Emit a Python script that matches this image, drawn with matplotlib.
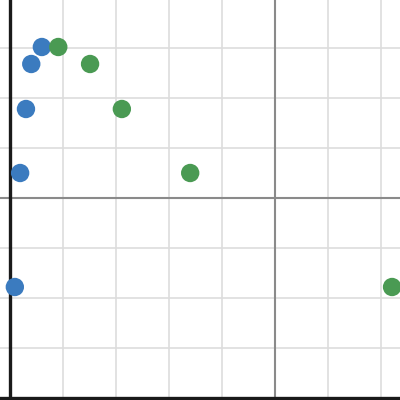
import numpy as np
import matplotlib
matplotlib.use("Agg")
import matplotlib.pyplot as plt

# values (grid units)
blue_x = [-4.40, -4.60, -4.70, -4.81, -4.91]
blue_y = [3.02, 2.68, 1.78, 0.50, -1.78]
green_x = [-4.09, -3.49, -2.89, -1.60, 2.21]
green_y = [3.02, 2.68, 1.78, 0.50, -1.78]

fig = plt.figure(figsize=(4, 4), dpi=100)
ax = fig.add_axes([0, 0, 1, 1])
ax.set_xlim(-5.19, 2.36)
ax.set_ylim(-4.04, 3.96)

for x in np.arange(-5, 3):
    ax.axvline(x, color="#dddddd", lw=1.2, zorder=0)
for y in np.arange(-4, 4):
    ax.axhline(y, color="#dddddd", lw=1.2, zorder=0)

ax.axvline(0, color="#8a8a8a", lw=1.5, zorder=1)
ax.axhline(0, color="#8a8a8a", lw=1.5, zorder=1)
ax.axvline(-5, color="#1a1a1a", lw=2.4, zorder=1)
ax.axhline(-4, color="#1a1a1a", lw=2.4, zorder=1)

ax.scatter(blue_x, blue_y, s=175, color="#3b7bbf", edgecolors="none", zorder=3)
ax.scatter(green_x, green_y, s=175, color="#4a9a53", edgecolors="none", zorder=3)

ax.set_xticks([])
ax.set_yticks([])
for sp in ax.spines.values():
    sp.set_visible(False)

fig.savefig("out.png", dpi=100)
